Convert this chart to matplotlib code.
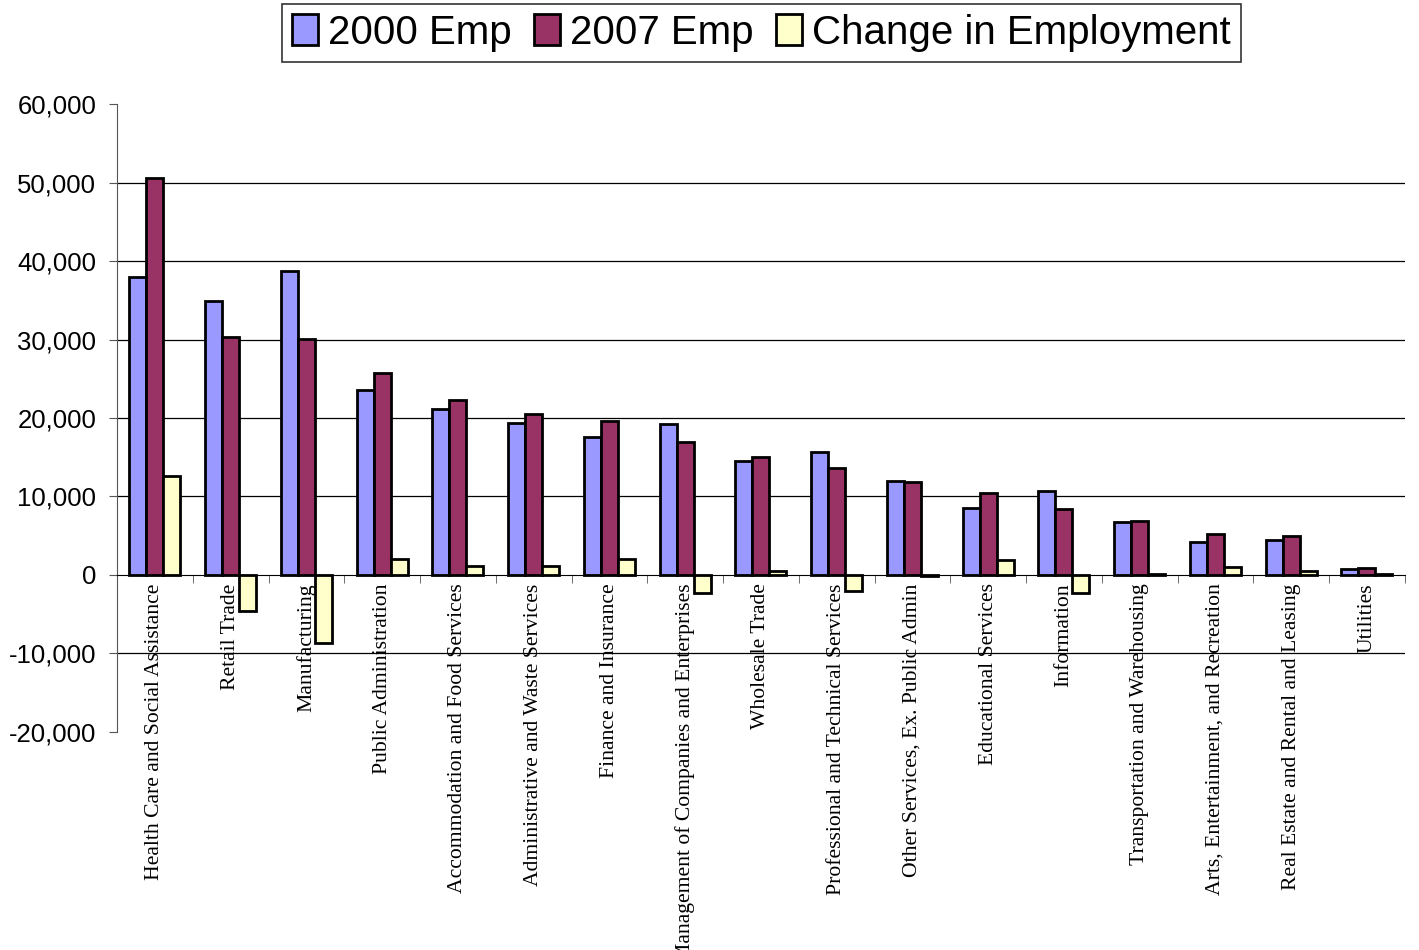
"""Employment by industry, 2000 vs 2007."""

import numpy as np
from matplotlib import pyplot as plt
from matplotlib.ticker import FuncFormatter, MultipleLocator

industries = [
    "Health Care and Social Assistance",
    "Retail Trade",
    "Manufacturing",
    "Public Administration",
    "Accommodation and Food Services",
    "Administrative and Waste Services",
    "Finance and Insurance",
    "Management of Companies and Enterprises",
    "Wholesale Trade",
    "Professional and Technical Services",
    "Other Services, Ex. Public Admin",
    "Educational Services",
    "Information",
    "Transportation and Warehousing",
    "Arts, Entertainment, and Recreation",
    "Real Estate and Rental and Leasing",
    "Utilities",
]
emp_2000 = [38000, 34900, 38700, 23600, 21150, 19300, 17550, 19250, 14500,
            15700, 11950, 8500, 10700, 6750, 4150, 4500, 800]
emp_2007 = [50600, 30300, 30050, 25700, 22300, 20550, 19650, 16950, 15000,
            13600, 11800, 10400, 8350, 6900, 5200, 4950, 900]
emp_change = [12600, -4600, -8650, 2100, 1150, 1200, 2100, -2300, 450,
              -2100, -150, 1900, -2350, 150, 1050, 450, 100]

colors = ["#9999ff", "#993366", "#ffffcc"]
series = [("2000 Emp", emp_2000), ("2007 Emp", emp_2007),
          ("Change in Employment", emp_change)]

fig = plt.figure(figsize=(14.19, 9.5), dpi=100)
ax = fig.add_axes([0.0825, 0.2295, 0.9075, 0.661])

x = np.arange(len(industries))
w = 0.224
for i, (name, vals) in enumerate(series):
    ax.bar(x + (i - 1) * w, vals, w, color=colors[i], edgecolor="black",
           linewidth=2.0, label=name, zorder=3)

ax.set_xlim(-0.5, len(industries) - 0.5)
ax.set_ylim(-20000, 60000)
ax.yaxis.set_major_locator(MultipleLocator(10000))
ax.yaxis.set_major_formatter(FuncFormatter(lambda v, p: f"{v:,.0f}"))
for v in range(-10000, 60000, 10000):
    if v != 0:
        ax.axhline(v, color="black", lw=0.9, zorder=1)

for s in ("top", "right"):
    ax.spines[s].set_visible(False)
ax.spines["bottom"].set_position(("data", 0))
ax.spines["bottom"].set_zorder(4)
ax.spines["left"].set_color("#555555")

ax.set_xticks(x)
ax.set_xticklabels(industries, rotation=90, va="top", ha="center",
                   family="Liberation Serif", fontsize=15.6)
ax.set_xticks(np.arange(len(industries) + 1) - 0.5, minor=True)
ax.tick_params(axis="x", which="major", length=0, pad=6)
ax.tick_params(axis="x", which="minor", length=6, direction="out", color="#555555")
ax.tick_params(axis="y", length=6, direction="out", color="#555555",
               labelsize=18.5, pad=9)
for lab in ax.get_yticklabels():
    lab.set_family("Liberation Sans")

leg = fig.legend(loc="upper center", bbox_to_anchor=(0.5366, 0.996), ncol=3,
                 prop={"family": "Liberation Sans", "size": 29},
                 frameon=True, fancybox=False, edgecolor="black",
                 handlelength=0.65, handleheight=0.8, handletextpad=0.25,
                 columnspacing=0.55, borderpad=0.25, borderaxespad=0)
leg.get_frame().set_linewidth(1.2)

fig.savefig("out.png", dpi=100)
